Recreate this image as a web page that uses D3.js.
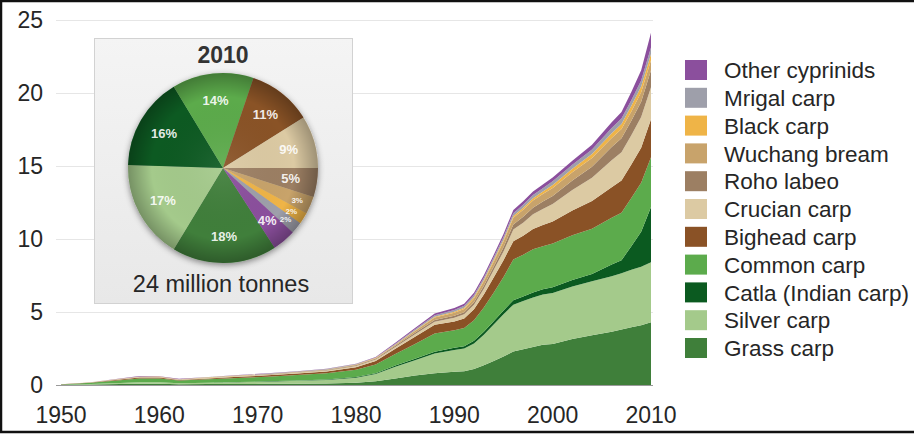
<!DOCTYPE html>
<html lang="en">
<head>
<meta charset="utf-8">
<title>Carp aquaculture production</title>
<script src="https://d3js.org/d3.v7.min.js"></script>
<style>
  body { margin: 0; background: #fff; }
  svg { display: block; font-family: "Liberation Sans", Arial, Helvetica, sans-serif; }
</style>
</head>
<body>
<script>

// production in million tonnes
var years = [1950,1953,1956,1958,1960,1962,1965,1968,1971,1974,1977,1980,1982,1984,1986,1988,1990,1991,1992,1993,1994,1995,1996,1997,1998,1999,2000,2002,2004,2006,2007,2008,2009,2010];

var grassCarp   = [.01,.03,.06,.08,.08,.05,.06,.07,.08,.09,.1,.15,.25,.45,.65,.8,.9,.95,1.1,1.35,1.65,1.95,2.3,2.45,2.6,2.75,2.8,3.15,3.4,3.65,3.8,3.95,4.1,4.3];
var silverCarp  = [.01,.03,.07,.1,.1,.07,.09,.12,.15,.2,.25,.35,.5,.8,1.05,1.35,1.5,1.55,1.75,2.1,2.5,2.9,3.2,3.3,3.4,3.45,3.5,3.6,3.7,3.8,3.85,3.95,4.0,4.1];
var catla       = [0,0,0,0,0,0,.01,.01,.02,.02,.03,.04,.05,.08,.1,.12,.15,.16,.18,.2,.22,.25,.3,.32,.34,.36,.4,.45,.5,.8,.9,1.6,2.4,3.8];
var commonCarp  = [.02,.09,.2,.27,.26,.18,.23,.28,.32,.37,.42,.5,.6,.8,1.0,1.25,1.2,1.25,1.4,1.65,1.95,2.3,2.8,2.85,2.95,2.95,3.0,3.05,3.1,3.2,3.25,3.3,3.35,3.4];
var bigheadCarp = [.005,.02,.05,.07,.07,.05,.06,.08,.09,.11,.13,.18,.25,.35,.5,.6,.6,.65,.75,.9,1.05,1.15,1.25,1.3,1.4,1.45,1.5,1.7,1.9,2.1,2.2,2.3,2.4,2.6];
var crucianCarp = [.003,.01,.03,.04,.04,.03,.04,.05,.05,.06,.07,.08,.09,.12,.18,.22,.25,.28,.32,.4,.5,.6,.8,.9,1.0,1.1,1.2,1.4,1.6,1.85,1.95,2.0,2.1,2.2];
var rohoLabeo   = [0,0,0,0,0,0,.01,.01,.02,.03,.03,.05,.06,.08,.1,.12,.15,.15,.17,.2,.23,.28,.35,.4,.45,.5,.55,.65,.75,.9,.95,1.0,1.05,1.15];
var wuchang     = [0,0,.01,.02,.02,.01,.02,.02,.02,.02,.03,.03,.04,.07,.12,.17,.2,.22,.26,.3,.35,.4,.45,.48,.5,.52,.55,.57,.6,.62,.63,.64,.65,.7];
var blackCarp   = [0,0,0,.01,.01,.01,.01,.01,.01,.01,.01,.02,.02,.03,.04,.05,.07,.08,.09,.1,.11,.12,.12,.14,.15,.17,.2,.24,.28,.33,.35,.38,.4,.42];
var mrigalCarp  = [0,0,0,0,0,0,.01,.01,.02,.02,.02,.03,.03,.05,.07,.1,.12,.13,.14,.15,.17,.19,.2,.21,.22,.23,.25,.27,.3,.35,.37,.39,.4,.45];
var otherCyp    = [.005,.01,.02,.02,.02,.02,.01,.02,.02,.02,.02,.03,.03,.06,.09,.12,.14,.15,.16,.17,.18,.2,.22,.23,.24,.25,.26,.28,.32,.4,.45,.55,.7,1.0];

// stack order, bottom to top
var species = ["Grass carp", "Silver carp", "Catla (Indian carp)", "Common carp", "Bighead carp",
               "Crucian carp", "Roho labeo", "Wuchang bream", "Black carp", "Mrigal carp", "Other cyprinids"];
var seriesValues = [grassCarp, silverCarp, catla, commonCarp, bigheadCarp,
                    crucianCarp, rohoLabeo, wuchang, blackCarp, mrigalCarp, otherCyp];
var colors = ["#3f7f3a", "#a4ca8b", "#0b5a20", "#5cab4c", "#8a5226",
              "#dccaa3", "#9c7f63", "#c8a36b", "#efb447", "#9e9faa", "#8b4f9d"];

// 2010 shares in the pie (percent), same order as species
var pieShare = [18, 17, 16, 14, 11, 9, 5, 3, 2, 2, 4];
var pieTitle = "2010";
var pieTotal = "24 million tonnes";

var yTicks = [0, 5, 10, 15, 20, 25];
var xTicks = [1950, 1960, 1970, 1980, 1990, 2000, 2010];

var width = 914,
    height = 436;

var svg = d3.select("body").append("svg")
    .attr("width", width)
    .attr("height", height);

var x = d3.scaleLinear()
    .domain([1950, 2010])
    .range([61, 651]);

var y = d3.scaleLinear()
    .domain([0, 25])
    .range([385, 20]);

// gridlines
svg.append("g")
    .selectAll("line")
    .data(yTicks)
    .enter().append("line")
    .attr("x1", 56)
    .attr("x2", x(2010) + 2)
    .attr("y1", function(d) { return y(d) + 0.5; })
    .attr("y2", function(d) { return y(d) + 0.5; })
    .attr("stroke", function(d) { return d === 0 ? "#9a9a9a" : "#e6e6e6"; })
    .attr("stroke-width", 1);

// y labels
svg.append("g")
    .selectAll("text")
    .data(yTicks)
    .enter().append("text")
    .attr("x", 43)
    .attr("y", function(d) { return y(d); })
    .attr("dy", "0.36em")
    .attr("text-anchor", "end")
    .attr("font-size", 23)
    .attr("fill", "#262626")
    .text(function(d) { return d; });

// x labels
svg.append("g")
    .selectAll("text")
    .data(xTicks)
    .enter().append("text")
    .attr("x", function(d) { return x(d); })
    .attr("y", 423)
    .attr("text-anchor", "middle")
    .attr("font-size", 23)
    .attr("fill", "#262626")
    .text(function(d) { return d; });

// stacked areas
var table = years.map(function(yr, i) {
  var row = { year: yr };
  species.forEach(function(s, j) { row[s] = seriesValues[j][i]; });
  return row;
});

var stack = d3.stack().keys(species);

var area = d3.area()
    .x(function(d) { return x(d.data.year); })
    .y0(function(d) { return y(d[0]); })
    .y1(function(d) { return y(d[1]); });

svg.append("g")
    .selectAll("path")
    .data(stack(table))
    .enter().append("path")
    .attr("d", area)
    .attr("fill", function(d, i) { return colors[i]; });

// legend, top to bottom is reverse of stack
var legend = svg.append("g")
    .attr("transform", "translate(685,60)");

var items = legend.selectAll("g")
    .data(species.slice().reverse())
    .enter().append("g")
    .attr("transform", function(d, i) { return "translate(0," + (i * 27.8) + ")"; });

items.append("rect")
    .attr("width", 22)
    .attr("height", 20)
    .attr("fill", function(d) { return colors[species.indexOf(d)]; });

items.append("text")
    .attr("x", 39)
    .attr("y", 10)
    .attr("dy", "0.36em")
    .attr("font-size", 22.5)
    .attr("fill", "#262626")
    .text(function(d) { return d; });

// pie inset
var defs = svg.append("defs");

var boxGrad = defs.append("linearGradient")
    .attr("id", "boxGrad")
    .attr("x1", 0).attr("y1", 0).attr("x2", 0).attr("y2", 1);
boxGrad.append("stop").attr("offset", "0%").attr("stop-color", "#f4f4f4");
boxGrad.append("stop").attr("offset", "100%").attr("stop-color", "#e8e8e8");

var shade = defs.append("radialGradient")
    .attr("id", "pieShade");
shade.append("stop").attr("offset", "0%").attr("stop-color", "#fff").attr("stop-opacity", 0.08);
shade.append("stop").attr("offset", "75%").attr("stop-color", "#000").attr("stop-opacity", 0);
shade.append("stop").attr("offset", "100%").attr("stop-color", "#000").attr("stop-opacity", 0.28);

var blur = defs.append("filter")
    .attr("id", "pieShadow")
    .attr("x", "-20%").attr("y", "-20%").attr("width", "140%").attr("height", "140%");
blur.append("feDropShadow")
    .attr("dx", 0).attr("dy", 2)
    .attr("stdDeviation", 3)
    .attr("flood-color", "#000")
    .attr("flood-opacity", 0.45);

svg.append("rect")
    .attr("x", 94.5)
    .attr("y", 38.5)
    .attr("width", 258)
    .attr("height", 265)
    .attr("fill", "url(#boxGrad)")
    .attr("stroke", "#d2d2d2");

var cx = 223, cy = 168, r = 95;

svg.append("text")
    .attr("x", cx)
    .attr("y", 63)
    .attr("text-anchor", "middle")
    .attr("font-size", 23)
    .attr("font-weight", "bold")
    .attr("fill", "#333")
    .text(pieTitle);

svg.append("text")
    .attr("x", cx - 2)
    .attr("y", 292)
    .attr("text-anchor", "middle")
    .attr("font-size", 23.5)
    .attr("fill", "#262626")
    .text(pieTotal);

// Roho labeo starts at 3 o'clock, so the pie starts that much further round
var shareSum = d3.sum(pieShare);
var a0 = Math.PI / 2 + d3.sum(pieShare.slice(6)) / shareSum * 2 * Math.PI;

var pie = d3.pie()
    .sort(null)
    .startAngle(a0)
    .endAngle(a0 + 2 * Math.PI);

var arc = d3.arc().innerRadius(0).outerRadius(r);
var labelArc = d3.arc().innerRadius(r * 0.72).outerRadius(r * 0.72);

var pg = svg.append("g")
    .attr("transform", "translate(" + cx + "," + cy + ")");

var slices = pie(pieShare);

pg.append("g")
    .attr("filter", "url(#pieShadow)")
    .selectAll("path")
    .data(slices)
    .enter().append("path")
    .attr("d", arc)
    .attr("fill", function(d, i) { return colors[i]; });

pg.append("circle")
    .attr("r", r)
    .attr("fill", "url(#pieShade)");

pg.selectAll("text")
    .data(slices)
    .enter().append("text")
    .attr("transform", function(d) {
      var c = labelArc.centroid(d);
      var rr = d.data < 4 ? 1.18 : 1;
      return "translate(" + c[0] * rr + "," + c[1] * rr + ")";
    })
    .attr("dy", "0.35em")
    .attr("text-anchor", "middle")
    .attr("font-size", function(d) { return d.data < 4 ? 8 : 13; })
    .attr("font-weight", "bold")
    .attr("fill", "#fff")
    .attr("fill-opacity", 0.9)
    .text(function(d) { return d.data + "%"; });

// frame
svg.append("rect")
    .attr("x", 1)
    .attr("y", 1)
    .attr("width", width + 4)
    .attr("height", 431)
    .attr("fill", "none")
    .attr("stroke", "#111")
    .attr("stroke-width", 2.5);

</script>
</body>
</html>
